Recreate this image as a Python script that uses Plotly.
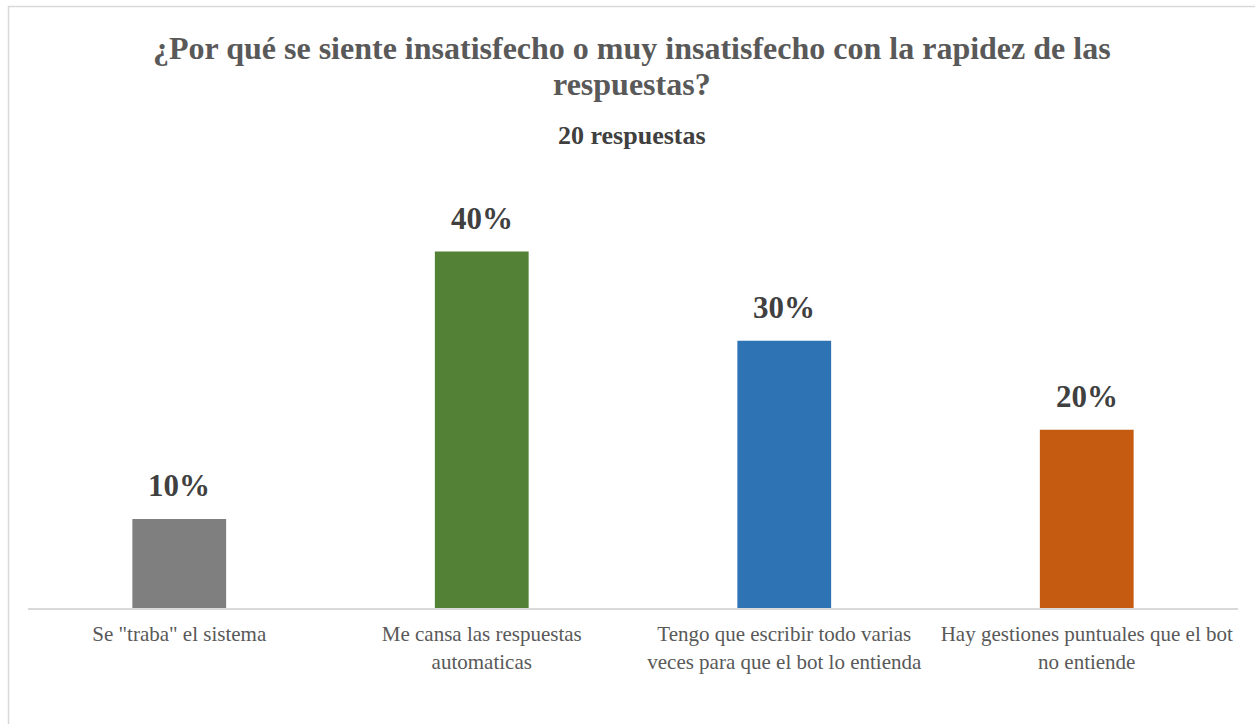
import plotly.graph_objects as go

categories = [
    'Se "traba" el sistema',
    'Me cansa las respuestas<br>automaticas',
    'Tengo que escribir todo varias<br>veces para que el bot lo entienda',
    'Hay gestiones puntuales que el bot<br>no entiende',
]
values = [0.10, 0.40, 0.30, 0.20]
labels = ["10%", "40%", "30%", "20%"]
colors = ["#7f7f7f", "#538135", "#2e74b5", "#c55a11"]

W, H = 1255, 724
L, R, T, B = 28, 17, 207, 116
ph = H - T - B

fig = go.Figure(go.Bar(
    x=categories, y=values,
    marker=dict(color=colors, line=dict(width=0)),
    width=0.31,
))

for c, v, t in zip(categories, values, labels):
    fig.add_annotation(x=c, y=v, text=f"<b>{t}</b>", showarrow=False,
                       yanchor="bottom", yshift=14,
                       font=dict(family="Liberation Serif", size=31, color="#404040"))

def py(p):
    return (H - B - p) / ph

def px(p):
    return (p - L) / (W - L - R)

fig.add_shape(type="rect", xref="paper", yref="paper",
              x0=px(8.5), x1=px(1300), y0=py(760), y1=py(6.5),
              line=dict(color="#d9d9d9", width=1.5), fillcolor="rgba(0,0,0,0)", layer="below")

fig.add_annotation(text="<b>¿Por qué se siente insatisfecho o muy insatisfecho con la rapidez de las</b>",
                   xref="paper", yref="paper", x=px(632), y=py(48), xanchor="center", yanchor="middle",
                   showarrow=False, font=dict(family="Liberation Serif", size=32, color="#595959"))
fig.add_annotation(text="<b>respuestas?</b>",
                   xref="paper", yref="paper", x=px(632), y=py(84), xanchor="center", yanchor="middle",
                   showarrow=False, font=dict(family="Liberation Serif", size=32, color="#595959"))
fig.add_annotation(text="<b>20 respuestas</b>",
                   xref="paper", yref="paper", x=px(632), y=py(135), xanchor="center", yanchor="middle",
                   showarrow=False, font=dict(family="Liberation Serif", size=26, color="#404040"))

fig.update_layout(
    width=W, height=H,
    margin=dict(l=L, r=R, t=T, b=B, autoexpand=False),
    paper_bgcolor="white", plot_bgcolor="white",
    showlegend=False,
    xaxis=dict(showgrid=False, showline=True, linecolor="#d9d9d9", linewidth=2,
               ticks="", ticklabelstandoff=6,
               tickfont=dict(family="Liberation Serif", size=21, color="#595959"),
               fixedrange=True),
    yaxis=dict(range=[0, 0.45], visible=False, showgrid=False, zeroline=False, fixedrange=True),
)

fig.write_html("out.html", config={"displayModeBar": False},
               post_script="document.body.style.margin='0';document.body.style.overflow='hidden';")
